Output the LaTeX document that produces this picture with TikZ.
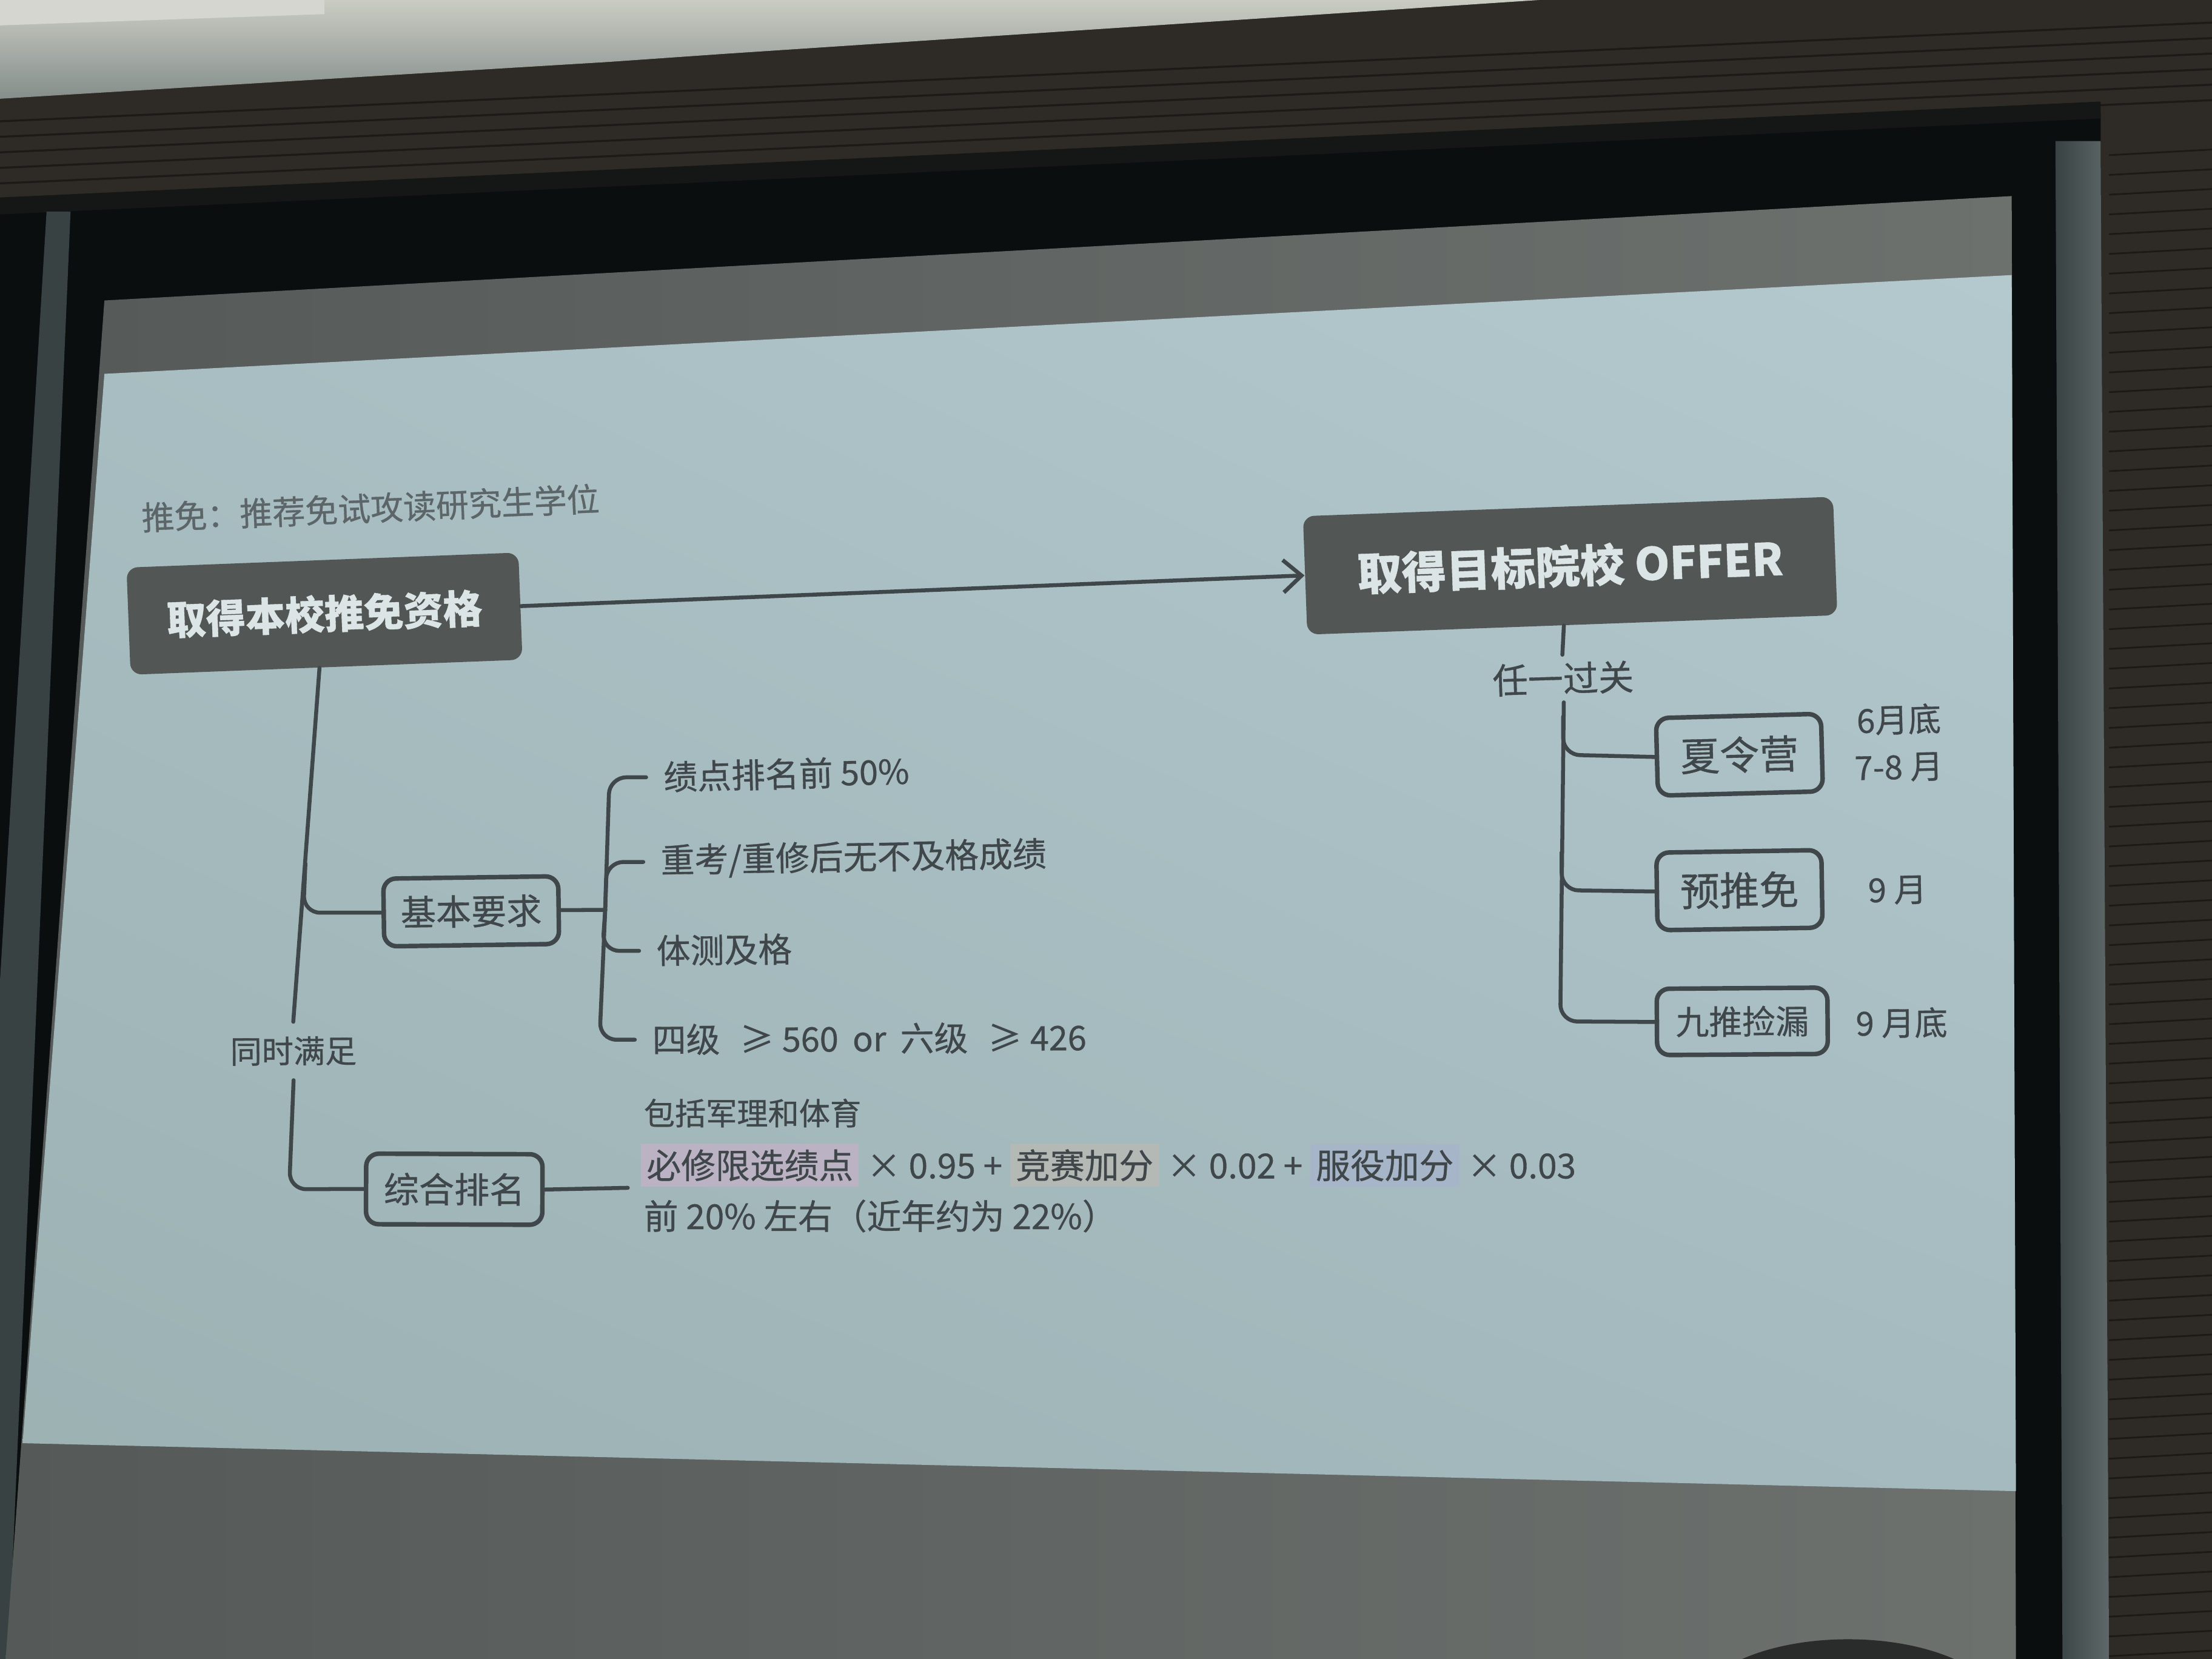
\documentclass[tikz,border=0pt]{standalone}
\usepackage{fontspec}
\setmainfont{Noto Sans CJK SC}[FakeBold=0.6]
\usetikzlibrary{arrows.meta,shadings}

\definecolor{ceilhi}{HTML}{CACCC3}
\definecolor{ceillo}{HTML}{858E8B}
\definecolor{wood}{HTML}{2E2A25}
\definecolor{woodline}{HTML}{1C1917}
\definecolor{casing}{HTML}{0A0E0F}
\definecolor{rimdark}{HTML}{394243}
\definecolor{rimlight}{HTML}{5E6869}
\definecolor{offleft}{HTML}{555A59}
\definecolor{offright}{HTML}{6C716E}
\definecolor{slideUL}{HTML}{A9BEC2}
\definecolor{slideUR}{HTML}{B4C9CE}
\definecolor{slideLL}{HTML}{9CB1B2}
\definecolor{slideLR}{HTML}{A4BABF}
\definecolor{ink}{HTML}{40474B}
\definecolor{inklight}{HTML}{5C6568}
\definecolor{boxfill}{HTML}{525755}
\definecolor{boxtext}{HTML}{DCE5E5}
\definecolor{hlA}{HTML}{BBB3C4}
\definecolor{hlB}{HTML}{B5B9B5}
\definecolor{hlC}{HTML}{A6B5C8}
\definecolor{headcol}{HTML}{2A2C2C}

\newcommand{\pxfont}[1]{\fontsize{#1}{#1}\selectfont}

\tikzset{
  darkbox/.style={fill=boxfill, text=boxtext, rounded corners=4pt, inner sep=0pt},
  linebox/.style={draw=ink, line width=1.6pt, rounded corners=4.5pt, text=ink, inner sep=0pt},
  plain/.style={text=ink, inner sep=0pt},
  itemtext/.style={text=ink, anchor=west, inner xsep=6pt, inner ysep=0pt, font=\pxfont{12pt}},
  datetext/.style={text=ink, inner sep=0pt, font=\pxfont{11.7pt}},
  conn/.style={draw=ink, line width=1.4pt, rounded corners=6pt, line cap=round},
}

\begin{document}
\begin{tikzpicture}[x=0.5pt, y=-0.5pt]
\useasboundingbox (0,0) rectangle (1568,1176);

% ---------- room: ceiling, wood panelling, screen casing ----------
\fill[wood] (0,0) rectangle (1568,1176);
\shade[top color=ceilhi, bottom color=ceillo]
  (0,0) -- (1091,0) -- (516,38) -- (430,44) -- (0,70) -- cycle;
\fill[ceilhi!80!white] (0,0) -- (230,0) -- (230,10) -- (0,18) -- cycle;
\foreach \k in {0,...,5}
  \draw[woodline, line width=0.7pt] (0,{86+11*\k}) -- (1568,{16+11*\k});
\foreach \yy in {110,124,...,1176}
  \draw[woodline, line width=0.6pt] (1495,\yy) -- (1568,{\yy-4});

\fill[casing] (0,150) -- (1489,80) -- (1489,1176) -- (0,1176) -- cycle;
\fill[casing!70!wood] (0,140) -- (1489,72) -- (1489,84) -- (0,152) -- cycle;

% casing rims
\fill[rimdark] (33,150) -- (50,150) -- (6,1176) -- (0,1176) -- (0,695) -- cycle;
\shade[left color=rimdark, right color=rimlight]
  (1457,100) -- (1489,100) -- (1495,1176) -- (1462,1176) -- cycle;

% unlit screen surface
\shade[left color=offleft, right color=offright]
  (74,213) -- (1426,139) -- (1429,1176) -- (4,1176) -- cycle;

% projected slide area
\shade[upper left=slideUL, upper right=slideUR, lower left=slideLL, lower right=slideLR]
  (74,265) -- (1426,195) -- (1429,1057) -- (16,1023) -- cycle;

% ---------- slide content ----------
\node[text=inklight, inner sep=0pt, anchor=west, rotate=2.4, font=\pxfont{11.6pt}]
  (cap) at (100,367) {推免：推荐免试攻读研究生学位};

\node[darkbox, minimum width=139pt, minimum height=38pt, rotate=2.2,
      font=\pxfont{14pt}\bfseries] (lbox) at (230,435) {取得本校推免资格};
\node[darkbox, minimum width=188pt, minimum height=42pt, rotate=2.1,
      font=\pxfont{15.8pt}\bfseries] (rbox) at (1113,401) {取得目标院校 OFFER};

\draw[conn, -{Straight Barb[length=6.5pt, width=11.5pt, line width=1.4pt]}]
  (lbox.east) -- (rbox.west);

% left branch: requirements
\node[plain, inner ysep=5pt, rotate=0.3, font=\pxfont{11.2pt}] (tongshi) at (208,745) {同时满足};
\node[linebox, minimum width=62pt, minimum height=24pt, rotate=0.8, font=\pxfont{12.5pt}]
  (jiben) at (334,646) {基本要求};
\node[linebox, minimum width=62.5pt, minimum height=25pt, rotate=-0.2, font=\pxfont{12.5pt}]
  (zonghe) at (322,843) {综合排名};

\node[itemtext, rotate=1.4] (it1) at (458,551) {绩点排名前 50\%};
\node[itemtext, rotate=1.0] (it2) at (456,611) {重考/重修后无不及格成绩};
\node[itemtext, rotate=0.7] (it3) at (453,674) {体测及格};
\node[itemtext, rotate=0.3] (it4) at (450,737)
  {四级\hspace{7pt}≥\hspace{3pt}560\hspace{5pt}or\hspace{5pt}六级\hspace{7pt}≥\hspace{3pt}426};

\draw[conn] ([xshift=-2.5pt]lbox.south) -- (tongshi.north);
\coordinate (lb0) at (216.5,612);
\coordinate (lb) at (215,647);
\draw[conn] (lb0) -- (lb) -- (jiben.west);
\coordinate (lc) at (205,843);
\draw[conn] (tongshi.south) -- (lc) -- (zonghe.west);

\coordinate (jl) at (429,645);
\coordinate (c1) at (432,551);
\coordinate (c2) at (430,611);
\coordinate (c3) at (427,674);
\coordinate (c4) at (425,737);
\draw[conn] (jiben.east) -- (jl);
\draw[conn] (jl) -- (c1) -- (it1.west);
\draw[conn] (jl) -- (c2) -- (it2.west);
\draw[conn] (jl) -- (c3) -- (it3.west);
\draw[conn] (jl) -- (c4) -- (it4.west);

\coordinate (zend) at (445,842);
\draw[conn] (zonghe.east) -- (zend);

\node[plain, anchor=west, font=\pxfont{11pt}] (incl) at (456,789) {包括军理和体育};
\node[plain, anchor=west, font=\pxfont{12.2pt}] (formula) at (454,826)
  {\setlength{\fboxsep}{2pt}\colorbox{hlA}{必修限选绩点} × 0.95 + \colorbox{hlB}{竞赛加分} × 0.02 + \colorbox{hlC}{服役加分} × 0.03};
\node[plain, anchor=west, font=\pxfont{12.2pt}] (top20) at (456,862) {前 20\% 左右（近年约为 22\%）};

% right branch: routes to an offer
\node[plain, inner ysep=2.5pt, rotate=1.7, font=\pxfont{12.5pt}] (renyi) at (1108,481) {任一过关};
\node[linebox, minimum width=58.5pt, minimum height=27.5pt, rotate=1.5, font=\pxfont{14pt}]
  (xia) at (1233,535) {夏令营};
\node[linebox, minimum width=58.5pt, minimum height=27.5pt, rotate=0.9, font=\pxfont{14pt}]
  (yu) at (1233,631) {预推免};
\node[linebox, minimum width=60.5pt, minimum height=23.5pt, rotate=0.4, font=\pxfont{11.8pt}]
  (jiu) at (1235,724) {九推捡漏};

\draw[conn] ([xshift=-3pt]rbox.south) -- (renyi.north);
\coordinate (r1a) at (1108,508);
\coordinate (r1) at (1108,535);
\coordinate (r2a) at (1107,604);
\coordinate (r2) at (1107,631);
\coordinate (r3) at (1106,724);
\draw[conn] (renyi.south) -- (r3) -- (jiu.west);
\draw[conn] (r1a) -- (r1) -- (xia.west);
\draw[conn] (r2a) -- (r2) -- (yu.west);

\node[datetext, rotate=1.5] (d1) at (1346,510) {6月底};
\node[datetext, rotate=1.4] (d2) at (1346,544) {7-8 月};
\node[datetext, rotate=0.9] (d3) at (1345,631) {9 月};
\node[datetext, rotate=0.4] (d4) at (1348,725) {9 月底};

% head of a spectator at the lower edge
\fill[headcol] (1310,1214) ellipse [x radius=110, y radius=52];
\end{tikzpicture}
\end{document}
